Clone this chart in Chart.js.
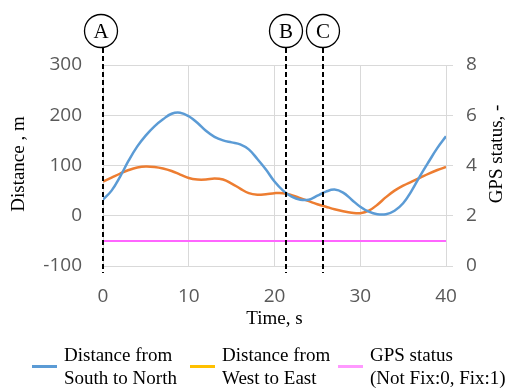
<!DOCTYPE html>
<html>
<head>
<meta charset="utf-8">
<script src="https://cdn.jsdelivr.net/npm/chart.js@4/dist/chart.umd.min.js"></script>
<style>
html,body{margin:0;padding:0;background:#fff;}
#c{display:block;}
</style>
</head>
<body>
<canvas id="c" width="512" height="388"></canvas>
<script>
// ---- data ----
const time = [0,1,2,3,4,5,6,7,8,9,10,11,12,13,14,15,16,17,18,19,20,21,22,23,24,25,26,27,28,29,30,31,32,33,34,35,36,37,38,39,40];
const southToNorth = [32,50,78,110,138,160,178,192,203,205,198,185,169,157,150,146,142,132,113,92,68,50,38,32,32,40,48,52,46,32,18,8,3,3,10,25,50,80,108,135,158];
const westToEast = [68,76,84,91,96,98,97,94,89,82,75,72,72,74,72,64,54,45,42,43,45,45,41,35,29,23,18,13,9,6,5,10,22,37,50,60,68,76,84,91,97];
const gpsStatus = [1,1,1,1,1,1,1,1,1,1,1,1,1,1,1,1,1,1,1,1,1,1,1,1,1,1,1,1,1,1,1,1,1,1,1,1,1,1,1,1,1];
const markerLabels = ['A','B','C'];
const markerTimes = [0, 21.3, 25.7];
const legendLines = [['Distance from','South to North'],['Distance from','West to East'],['GPS status','(Not Fix:0, Fix:1)']];
const legendColors = ['#5B9BD5','#FFC000','#FF99FF'];
const xTitle = 'Time, s';
const yTitle = 'Distance , m';
const y2Title = 'GPS status, -';

const serif = '"Liberation Serif", "Times New Roman", serif';
const sans = '"Open Sans", "Noto Sans", sans-serif';

const pts = (arr) => arr.map((v,i)=>({x:time[i], y:v}));

const overlay = {
  id:'overlay',
  afterDatasetsDraw(chart){
    const ctx = chart.ctx, xs = chart.scales.x, ca = chart.chartArea;
    ctx.save();
    markerTimes.forEach((t,i)=>{
      const px = Math.round(xs.getPixelForValue(t));
      ctx.strokeStyle = '#000';
      ctx.lineWidth = 2;
      ctx.setLineDash([5,3]);
      ctx.beginPath();
      ctx.moveTo(px, 48);
      ctx.lineTo(px, ca.bottom + 7);
      ctx.stroke();
      ctx.setLineDash([]);
      const cx = i === 0 ? px - 2 : px;
      ctx.lineWidth = 1.3;
      ctx.beginPath();
      ctx.arc(cx, 31, 16.5, 0, Math.PI*2);
      ctx.fillStyle = '#fff';
      ctx.fill();
      ctx.stroke();
      ctx.fillStyle = '#000';
      ctx.font = '21px ' + serif;
      ctx.textAlign = 'center';
      ctx.textBaseline = 'middle';
      ctx.fillText(markerLabels[i], cx, 32);
    });
    ctx.restore();
  },
  afterDraw(chart){
    const ctx = chart.ctx, ca = chart.chartArea;
    ctx.save();
    ctx.fillStyle = '#000';
    ctx.font = '19px ' + serif;
    ctx.textAlign = 'center';
    ctx.textBaseline = 'middle';
    ctx.fillText(xTitle, (ca.left+ca.right)/2, 319);
    ctx.save();
    ctx.translate(19, 164);
    ctx.rotate(-Math.PI/2);
    ctx.fillText(yTitle, 0, 0);
    ctx.restore();
    ctx.save();
    ctx.translate(497, 154);
    ctx.rotate(-Math.PI/2);
    ctx.fillText(y2Title, 0, 0);
    ctx.restore();
    // legend
    const sw = [32, 190, 338];
    ctx.textAlign = 'left';
    ctx.textBaseline = 'alphabetic';
    legendLines.forEach((lines,i)=>{
      ctx.strokeStyle = legendColors[i];
      ctx.lineWidth = 3;
      ctx.beginPath();
      ctx.moveTo(sw[i], 366.5);
      ctx.lineTo(sw[i]+25, 366.5);
      ctx.stroke();
      ctx.fillStyle = '#000';
      ctx.fillText(lines[0], sw[i]+32, 361);
      ctx.fillText(lines[1], sw[i]+32, 384);
    });
    ctx.restore();
  }
};

new Chart(document.getElementById('c'), {
  type:'line',
  data:{
    datasets:[
      {label:'Distance from South to North', data:pts(southToNorth), borderColor:'#5B9BD5', borderWidth:2.5, pointRadius:0, tension:0.4, yAxisID:'y'},
      {label:'Distance from West to East', data:pts(westToEast), borderColor:'#ED7D31', borderWidth:2.5, pointRadius:0, tension:0.4, yAxisID:'y'},
      {label:'GPS status (Not Fix:0, Fix:1)', data:pts(gpsStatus), borderColor:'#FF66FF', borderWidth:2, pointRadius:0, tension:0, yAxisID:'y2'}
    ]
  },
  options:{
    responsive:false,
    animation:false,
    layout:{padding:{top:65, left:0, right:0, bottom:0}},
    plugins:{legend:{display:false}, tooltip:{enabled:false}, title:{display:false}},
    scales:{
      x:{type:'linear', min:0, max:40,
        ticks:{stepSize:10, color:'#595959', font:{family:sans, size:19}, padding:19},
        grid:{color:'#d9d9d9', drawTicks:false, lineWidth:1},
        border:{display:false},
        afterFit(s){ s.height = 122; }
      },
      y:{position:'left', min:-100, max:300,
        ticks:{stepSize:100, color:'#595959', font:{family:sans, size:19}, padding:21},
        grid:{color:'#d9d9d9', drawTicks:false},
        border:{display:false},
        afterFit(s){ s.width = 103; }
      },
      y2:{position:'right', min:0, max:8,
        ticks:{stepSize:2, color:'#595959', font:{family:sans, size:19}, padding:13},
        grid:{color:'#d9d9d9', drawOnChartArea:false, drawTicks:true, tickLength:7},
        border:{display:true, color:'#d9d9d9'},
        afterFit(s){ s.width = 66; }
      }
    }
  },
  plugins:[overlay]
});
</script>
</body>
</html>
